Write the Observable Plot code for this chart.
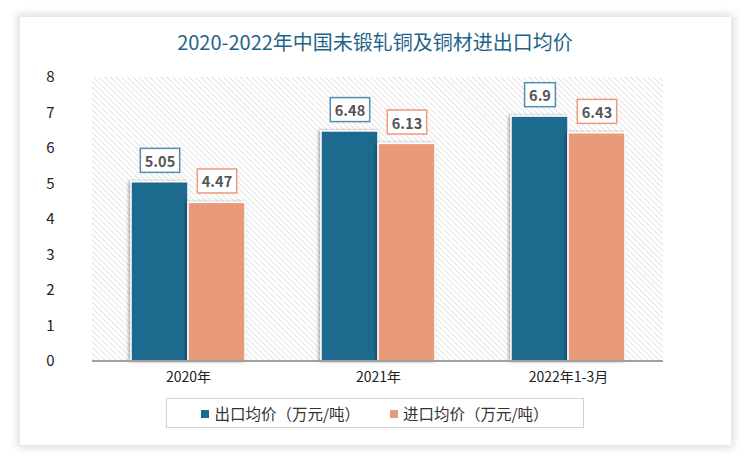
<!DOCTYPE html>
<html><head><meta charset="utf-8">
<script src="https://cdn.jsdelivr.net/npm/d3@7"></script>
<script src="https://cdn.jsdelivr.net/npm/@observablehq/plot@0.6"></script>
<style>
body{margin:0;background:#fff;font-family:"Noto Sans CJK SC","Noto Sans",sans-serif;}
#wrap{position:relative;width:750px;height:461px;overflow:hidden;background:#fff;}
#card{position:absolute;left:20px;top:17px;width:711px;height:428px;background:#fff;box-shadow:0 0 8px 3px rgba(0,0,0,0.13);}
#title{position:absolute;left:0;width:750px;top:27px;text-align:center;font-size:20px;color:#1f6488;letter-spacing:0px;}
#chart{position:absolute;left:0;top:0;}
#legend{position:absolute;left:166px;top:398px;width:418px;height:30px;border:1px solid #d4d4d4;box-sizing:border-box;display:flex;align-items:center;justify-content:center;gap:30px;font-size:15.5px;color:#333;}
#legend span.sw{display:inline-block;width:8px;height:8px;margin-right:5px;vertical-align:2px;}
</style></head>
<body>
<div id="wrap">
<div id="card"></div>
<div id="title">2020-2022年中国未锻轧铜及铜材进出口均价</div>
<div id="chart"></div>
<div id="legend"></div>
</div>
<script>
const categories = ["2020年", "2021年", "2022年1-3月"];
const seriesNames = ["出口均价（万元/吨）", "进口均价（万元/吨）"];
const exportValues = [5.05, 6.48, 6.9];
const importValues = [4.47, 6.13, 6.43];
const yTicks = [0, 1, 2, 3, 4, 5, 6, 7, 8];
const colors = ["#1d6a8e", "#e89a7a"];
const borderColors = ["#4f8fb2", "#ef9a78"];

const data = [];
categories.forEach((c, i) => {
  data.push({cat: c, series: seriesNames[0], value: exportValues[i]});
  data.push({cat: c, series: seriesNames[1], value: importValues[i]});
});
const yTickData = yTicks.map(v => ({cat: categories[0], v}));

const W = 750, H = 400, mT = 77, mB = 39, mL = 92, mR = 87;

const chart = Plot.plot({
  width: W,
  height: H,
  marginTop: mT,
  marginBottom: mB,
  marginLeft: mL,
  marginRight: mR,
  style: {fontFamily: '"Noto Sans CJK SC","Noto Sans",sans-serif', fontSize: "14px", color: "#222", background: "transparent", overflow: "visible"},
  fx: {domain: categories, paddingInner: 0.4, paddingOuter: 0.2, label: null, axis: null},
  x: {domain: seriesNames, padding: 0, axis: null},
  y: {domain: [0, 8], label: null, axis: null},
  color: {domain: seriesNames, range: colors},
  marks: [
    Plot.text(yTickData, {fx: "cat", y: "v", text: d => String(d.v), frameAnchor: "left", textAnchor: "end", dx: -77, fontSize: 15, fill: "#222"}),
    Plot.text(categories, {fx: d => d, text: d => d, frameAnchor: "bottom", dy: 20, fontSize: 14, fill: "#222"}),
    Plot.barY(data, {fx: "cat", x: "series", y: "value", fill: "series", stroke: "#fff", strokeWidth: 1.5, className: "bars"}),
    Plot.text(data, {fx: "cat", x: "series", y: "value", text: d => String(d.value), dy: -20, fontWeight: "bold", fontSize: 14.5, fill: "#555", className: "vlabels"})
  ]
});

const svg = d3.select(chart);
const defs = svg.insert("defs", ":first-child");
const pat = defs.append("pattern").attr("id", "hatch").attr("patternUnits", "userSpaceOnUse").attr("width", 4).attr("height", 4).attr("patternTransform", "rotate(45)");
pat.append("rect").attr("width", 4).attr("height", 4).attr("fill", "#fff");
pat.append("line").attr("x1", 0).attr("y1", 0).attr("x2", 4).attr("y2", 0).attr("stroke", "#d9d9d9").attr("stroke-width", 1.4);
const flt = defs.append("filter").attr("id", "shadow").attr("x", "-20%").attr("y", "-20%").attr("width", "140%").attr("height", "140%");
flt.append("feDropShadow").attr("dx", -1.5).attr("dy", 0).attr("stdDeviation", 1.8).attr("flood-color", "#000").attr("flood-opacity", 0.35);
svg.selectAll("g.bars rect").attr("filter", "url(#shadow)");

const ys = chart.scale("y");
const yTop = ys.apply(8), y0 = ys.apply(0);
svg.insert("rect", "defs + *").attr("x", mL).attr("y", yTop).attr("width", W - mL - mR).attr("height", y0 - yTop).attr("fill", "url(#hatch)");
svg.append("line").attr("x1", mL).attr("x2", W - mR).attr("y1", y0).attr("y2", y0).attr("stroke", "#a0a0a0").attr("stroke-width", 2);

document.getElementById("chart").appendChild(chart);

svg.selectAll("g.vlabels text").each(function(d, i) {
  const t = this;
  const bb = t.getBBox();
  const idx = i % 2;
  const g = t.parentNode;
  const r = document.createElementNS("http://www.w3.org/2000/svg", "rect");
  r.setAttribute("x", bb.x - 4.5);
  r.setAttribute("y", bb.y - 1.5);
  r.setAttribute("width", bb.width + 9);
  r.setAttribute("height", bb.height + 3);
  r.setAttribute("fill", "#fff");
  r.setAttribute("stroke", borderColors[idx]);
  r.setAttribute("stroke-width", 1.5);
  const tr = t.getAttribute("transform");
  if (tr) r.setAttribute("transform", tr);
  g.insertBefore(r, t);
});
svg.selectAll("g.vlabels").raise();

const leg = document.getElementById("legend");
seriesNames.forEach((s, i) => {
  const item = document.createElement("div");
  item.innerHTML = `<span class="sw" style="background:${colors[i]}"></span>${s}`;
  leg.appendChild(item);
});
</script>
</body></html>
